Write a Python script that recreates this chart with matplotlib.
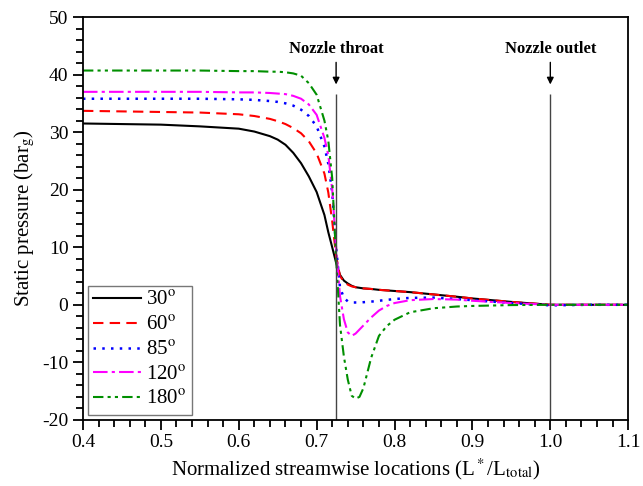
import matplotlib
matplotlib.use('Agg')
import matplotlib.pyplot as plt
from matplotlib.ticker import MultipleLocator

plt.rcParams['font.family'] = 'Liberation Serif'
plt.rcParams['mathtext.fontset'] = 'stix'
plt.rcParams['axes.unicode_minus'] = False

# Normalized streamwise location (L*/L_total)
x = [0.40, 0.45, 0.50, 0.55, 0.60, 0.62, 0.64, 0.65, 0.66, 0.67, 0.68,
     0.69, 0.70, 0.71, 0.715, 0.72, 0.725, 0.73, 0.735, 0.74, 0.745,
     0.75, 0.755, 0.76, 0.77, 0.78, 0.79, 0.80, 0.82, 0.85, 0.88, 0.90,
     0.95, 1.00, 1.05, 1.10]

# Static pressure (bar_g) for each angle
p30 = [31.5, 31.4, 31.3, 31.0, 30.6, 30.1, 29.3, 28.7, 27.8, 26.4, 24.6,
       22.3, 19.6, 15.6, 12.6, 10.0, 7.3, 5.2, 4.2, 3.7, 3.3,
       3.05, 2.95, 2.85, 2.75, 2.6, 2.5, 2.4, 2.2, 1.8, 1.4, 1.1,
       0.5, 0.0, 0.0, 0.0]
p60 = [33.7, 33.6, 33.5, 33.4, 33.1, 32.8, 32.3, 31.9, 31.4, 30.7, 29.8,
       28.4, 26.3, 22.8, 19.5, 14.5, 8.5, 5.0, 4.0, 3.5, 3.2,
       3.05, 2.95, 2.85, 2.75, 2.6, 2.5, 2.4, 2.2, 1.8, 1.4, 1.1,
       0.5, 0.0, 0.0, 0.0]
p85 = [35.8, 35.8, 35.8, 35.8, 35.7, 35.6, 35.4, 35.25, 35.0, 34.6, 33.9,
       32.8, 31.0, 27.5, 24.5, 19.5, 10.0, 3.0, 1.2, 0.6, 0.4,
       0.4, 0.4, 0.45, 0.55, 0.7, 0.85, 1.0, 1.2, 1.25, 1.0, 0.8,
       0.3, -0.1, 0.0, 0.0]
p120 = [37.0, 37.0, 37.0, 37.0, 36.9, 36.9, 36.8, 36.7, 36.6, 36.3, 35.8,
        34.8, 33.0, 29.0, 26.0, 20.0, 10.0, 1.5, -2.5, -4.8, -5.4,
        -5.0, -4.3, -3.6, -2.2, -1.0, -0.2, 0.3, 0.8, 1.0, 0.9, 0.7,
        0.3, 0.0, 0.0, 0.0]
p180 = [40.7, 40.7, 40.7, 40.7, 40.6, 40.6, 40.5, 40.5, 40.4, 40.2, 39.8,
        38.5, 36.5, 32.0, 28.5, 22.0, 8.0, -3.5, -9.0, -13.0, -15.8,
        -16.3, -16.0, -14.5, -9.2, -5.4, -3.7, -2.6, -1.3, -0.6, -0.3, -0.2,
        -0.05, 0.0, 0.0, 0.0]

labels = [r'30$^{\rm o}$', r'60$^{\rm o}$', r'85$^{\rm o}$',
          r'120$^{\rm o}$', r'180$^{\rm o}$']

fig = plt.figure(figsize=(6.43, 4.86), dpi=100)
ax = fig.add_axes([0.129, 0.136, 0.848, 0.829])

ax.plot(x, p30, color='black', ls='-', lw=1.5, label=labels[0])
ax.plot(x, p60, color='red', ls=(0, (5, 3)), lw=1.5, label=labels[1])
ax.plot(x, p85, color='blue', ls=(0, (1, 2.5)), lw=1.8, label=labels[2])
ax.plot(x, p120, color='magenta', ls=(0, (7, 2, 1.5, 2)), lw=1.5,
        label=labels[3])
ax.plot(x, p180, color='#008f00', ls=(0, (5, 2, 1.5, 2, 1.5, 2)), lw=1.5,
        label=labels[4])

# throat and outlet markers
for xm, name in [(0.725, 'Nozzle throat'), (1.0, 'Nozzle outlet')]:
    ax.vlines(xm, -20, 36.6, color='#444444', lw=1)
    ax.annotate('', xy=(xm, 37.8), xytext=(xm, 42.6),
                arrowprops=dict(arrowstyle='-|>', color='black', lw=1,
                                mutation_scale=10))
    ax.text(xm, 43.7, name, ha='center', va='baseline', fontsize=12,
            fontweight='bold')

ax.set_xlim(0.4, 1.1)
ax.set_ylim(-20, 50)
ax.xaxis.set_major_locator(MultipleLocator(0.1))
ax.xaxis.set_minor_locator(MultipleLocator(0.02))
ax.yaxis.set_major_locator(MultipleLocator(10))
ax.yaxis.set_minor_locator(MultipleLocator(2))
ax.xaxis.set_major_formatter(lambda v, pos: '%.1f' % v)
ax.tick_params(which='major', direction='out', length=7, width=1.3,
               labelsize=14, top=False, right=False)
ax.tick_params(which='minor', direction='out', length=5, width=1.3,
               top=False, right=False)
for s in ax.spines.values():
    s.set_linewidth(1.3)

ax.set_xlabel(r'Normalized streamwise locations (L$^*$/L$_{\rm total}$)',
              fontsize=15)
ax.set_ylabel(r'Static pressure (bar$_{\rm g}$)', fontsize=15)

leg = ax.legend(loc='lower left', fontsize=15, fancybox=False,
                edgecolor='#555555', handlelength=2.3, handletextpad=0.25,
                labelspacing=0.25, borderpad=0.25, borderaxespad=0.25)
leg.get_frame().set_linewidth(1)

fig.savefig('out.png', dpi=100)
